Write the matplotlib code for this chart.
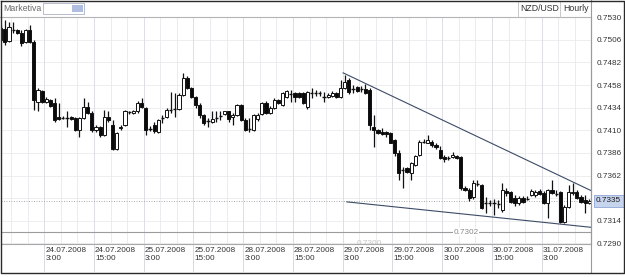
import matplotlib
matplotlib.use("Agg")
import matplotlib.pyplot as plt
import matplotlib.transforms as mtransforms
from matplotlib.patches import Rectangle

# ---------------- data ----------------
open_ = [0.7519, 0.7518, 0.7505, 0.7517, 0.7517, 0.7513, 0.7504, 0.7516, 0.7504, 0.7440,
         0.7452, 0.7440, 0.7442, 0.7439, 0.7424, 0.7423, 0.7424, 0.7424, 0.7423, 0.7410,
         0.7423, 0.7435, 0.7428, 0.7410, 0.7414, 0.7405, 0.7424, 0.7416, 0.7390, 0.7412,
         0.7416, 0.7430, 0.7428, 0.7430, 0.7439, 0.7434, 0.7412, 0.7416, 0.7408, 0.7424,
         0.7424, 0.7432, 0.7433, 0.7433, 0.7448, 0.7466, 0.7455, 0.7445, 0.7437, 0.7426,
         0.7420, 0.7419, 0.7424, 0.7426, 0.7427, 0.7430, 0.7424, 0.7426, 0.7437, 0.7421,
         0.7412, 0.7410, 0.7422, 0.7427, 0.7439, 0.7428, 0.7434, 0.7442, 0.7437, 0.7445,
         0.7449, 0.7450, 0.7450, 0.7450, 0.7435, 0.7450, 0.7450, 0.7450, 0.7446, 0.7445,
         0.7446, 0.7450, 0.7445, 0.7455, 0.7463, 0.7454, 0.7456, 0.7454, 0.7454, 0.7453,
         0.7414, 0.7410, 0.7408, 0.7408, 0.7407, 0.7400, 0.7386, 0.7367, 0.7370, 0.7365,
         0.7373, 0.7384, 0.7398, 0.7397, 0.7398, 0.7394, 0.7389, 0.7382, 0.7381, 0.7382,
         0.7383, 0.7382, 0.7349, 0.7347, 0.7339, 0.7354, 0.7352, 0.7333, 0.7333, 0.7333,
         0.7331, 0.7325, 0.7346, 0.7345, 0.7338, 0.7333, 0.7338, 0.7338, 0.7341, 0.7341,
         0.7346, 0.7343, 0.7333, 0.7347, 0.7343, 0.7345, 0.7313, 0.7329, 0.7343, 0.7345,
         0.7339, 0.7336, 0.7333]

high = [0.7522, 0.7527, 0.7525, 0.7525, 0.7518, 0.7516, 0.7518, 0.7522, 0.7506, 0.7455,
        0.7453, 0.7445, 0.7443, 0.7444, 0.7439, 0.7425, 0.7430, 0.7425, 0.7424, 0.7424,
        0.7444, 0.7440, 0.7430, 0.7416, 0.7415, 0.7432, 0.7430, 0.7421, 0.7408, 0.7416,
        0.7432, 0.7431, 0.7432, 0.7441, 0.7444, 0.7435, 0.7415, 0.7419, 0.7422, 0.7426,
        0.7434, 0.7451, 0.7450, 0.7450, 0.7471, 0.7468, 0.7456, 0.7446, 0.7439, 0.7427,
        0.7423, 0.7430, 0.7430, 0.7430, 0.7431, 0.7431, 0.7428, 0.7438, 0.7438, 0.7423,
        0.7423, 0.7427, 0.7428, 0.7440, 0.7441, 0.7436, 0.7444, 0.7443, 0.7451, 0.7453,
        0.7453, 0.7451, 0.7451, 0.7451, 0.7452, 0.7455, 0.7453, 0.7452, 0.7451, 0.7450,
        0.7452, 0.7451, 0.7463, 0.7469, 0.7466, 0.7458, 0.7457, 0.7457, 0.7459, 0.7455,
        0.7426, 0.7411, 0.7412, 0.7409, 0.7408, 0.7401, 0.7389, 0.7371, 0.7371, 0.7376,
        0.7384, 0.7400, 0.7401, 0.7405, 0.7400, 0.7396, 0.7393, 0.7384, 0.7383, 0.7387,
        0.7384, 0.7383, 0.7351, 0.7349, 0.7357, 0.7357, 0.7353, 0.7339, 0.7336, 0.7337,
        0.7336, 0.7354, 0.7349, 0.7346, 0.7341, 0.7340, 0.7340, 0.7340, 0.7348, 0.7347,
        0.7348, 0.7346, 0.7348, 0.7357, 0.7347, 0.7346, 0.7331, 0.7352, 0.7354, 0.7347,
        0.7341, 0.7341, 0.7337]

low = [0.7505, 0.7501, 0.7504, 0.7513, 0.7512, 0.7499, 0.7503, 0.7503, 0.7432, 0.7430,
       0.7439, 0.7439, 0.7435, 0.7419, 0.7421, 0.7422, 0.7414, 0.7421, 0.7409, 0.7403,
       0.7422, 0.7427, 0.7408, 0.7408, 0.7403, 0.7404, 0.7419, 0.7389, 0.7389, 0.7410,
       0.7415, 0.7427, 0.7427, 0.7428, 0.7434, 0.7405, 0.7409, 0.7407, 0.7407, 0.7418,
       0.7423, 0.7428, 0.7424, 0.7432, 0.7446, 0.7454, 0.7444, 0.7434, 0.7423, 0.7416,
       0.7414, 0.7418, 0.7419, 0.7421, 0.7426, 0.7419, 0.7416, 0.7425, 0.7420, 0.7409,
       0.7408, 0.7409, 0.7420, 0.7426, 0.7427, 0.7427, 0.7433, 0.7438, 0.7436, 0.7444,
       0.7440, 0.7440, 0.7444, 0.7438, 0.7433, 0.7444, 0.7446, 0.7446, 0.7440, 0.7444,
       0.7445, 0.7444, 0.7444, 0.7454, 0.7449, 0.7450, 0.7451, 0.7451, 0.7449, 0.7410,
       0.7392, 0.7406, 0.7405, 0.7403, 0.7396, 0.7383, 0.7357, 0.7349, 0.7365, 0.7357,
       0.7372, 0.7383, 0.7396, 0.7396, 0.7392, 0.7390, 0.7380, 0.7376, 0.7378, 0.7381,
       0.7380, 0.7347, 0.7346, 0.7335, 0.7337, 0.7351, 0.7326, 0.7322, 0.7330, 0.7320,
       0.7327, 0.7323, 0.7340, 0.7333, 0.7330, 0.7331, 0.7333, 0.7336, 0.7340, 0.7339,
       0.7341, 0.7332, 0.7317, 0.7342, 0.7340, 0.7312, 0.7312, 0.7328, 0.7341, 0.7337,
       0.7333, 0.7322, 0.7332]

close = [0.7506, 0.7504, 0.7520, 0.7516, 0.7513, 0.7503, 0.7516, 0.7504, 0.7442, 0.7453,
         0.7440, 0.7443, 0.7436, 0.7421, 0.7422, 0.7424, 0.7423, 0.7422, 0.7410, 0.7423,
         0.7435, 0.7428, 0.7410, 0.7414, 0.7405, 0.7424, 0.7421, 0.7390, 0.7407, 0.7414,
         0.7430, 0.7429, 0.7430, 0.7439, 0.7435, 0.7410, 0.7411, 0.7409, 0.7421, 0.7423,
         0.7432, 0.7431, 0.7432, 0.7448, 0.7466, 0.7455, 0.7445, 0.7437, 0.7426, 0.7418,
         0.7419, 0.7422, 0.7423, 0.7425, 0.7430, 0.7422, 0.7426, 0.7437, 0.7421, 0.7410,
         0.7411, 0.7426, 0.7426, 0.7439, 0.7428, 0.7434, 0.7442, 0.7439, 0.7450, 0.7452,
         0.7448, 0.7445, 0.7445, 0.7439, 0.7451, 0.7449, 0.7449, 0.7449, 0.7445, 0.7448,
         0.7450, 0.7445, 0.7455, 0.7461, 0.7451, 0.7453, 0.7452, 0.7453, 0.7450, 0.7416,
         0.7410, 0.7407, 0.7406, 0.7406, 0.7397, 0.7386, 0.7365, 0.7368, 0.7366, 0.7375,
         0.7383, 0.7398, 0.7397, 0.7400, 0.7394, 0.7392, 0.7381, 0.7380, 0.7380, 0.7384,
         0.7381, 0.7349, 0.7347, 0.7338, 0.7354, 0.7353, 0.7327, 0.7332, 0.7332, 0.7332,
         0.7332, 0.7347, 0.7343, 0.7334, 0.7333, 0.7338, 0.7334, 0.7337, 0.7346, 0.7345,
         0.7342, 0.7333, 0.7347, 0.7343, 0.7342, 0.7313, 0.7329, 0.7345, 0.7345, 0.7338,
         0.7334, 0.7333, 0.7335]

price_ticks = [0.7290, 0.7314, 0.7338, 0.7362, 0.7386, 0.7410, 0.7434,
               0.7458, 0.7482, 0.7506, 0.7530]
date_label_bars = [10, 22, 34, 46, 58, 70, 82, 94, 106, 118, 130]
date_labels = ["24.07.2008\n3:00", "24.07.2008\n15:00", "25.07.2008\n3:00",
               "25.07.2008\n15:00", "28.07.2008\n3:00", "28.07.2008\n15:00",
               "29.07.2008\n3:00", "29.07.2008\n15:00", "30.07.2008\n3:00",
               "30.07.2008\n15:00", "31.07.2008\n3:00"]
current_price = 0.7335
level_price = 0.7302
upper_trend_x = [82.6, 142.4]
upper_trend_y = [0.7471, 0.7346]
lower_trend_x = [83.5, 142.4]
lower_trend_y = [0.7334, 0.7307]
symbol = "NZD/USD"
period = "Hourly"
brand = "Marketiva"

# ---------------- figure ----------------
W, H = 625, 277
fig = plt.figure(figsize=(W / 100, H / 100), dpi=100)
fig.patch.set_facecolor("white")
FONT = "Liberation Sans"
FS = 5.9

def fx(px):
    return px / W

def fy(py):
    return 1 - py / H

ax_left, ax_right, ax_top, ax_bottom = 1, 591, 17, 243.5
ax = fig.add_axes([fx(ax_left), fy(ax_bottom), (ax_right - ax_left) / W,
                   (ax_bottom - ax_top) / H])
ax.set_zorder(1)
ax.set_facecolor("white")

n = len(close)
xs = list(range(n))
ax.set_xlim(0.07, 142.4)
ax.set_ylim(0.72898, 0.75303)

# grid + price axis (the tick hidden by the current-price box gets no text)
ax.set_yticks(price_ticks)
ax.set_yticklabels(["" if abs(t - current_price) < 0.0005 else f"{t:.4f}"
                    for t in price_ticks], fontfamily=FONT)
ax.yaxis.tick_right()
ax.tick_params(axis="y", length=0, pad=4, labelsize=FS, labelcolor="#333333")
ax.set_xticks([])
for t in price_ticks:
    ax.axhline(t, color="#ebebeb", lw=0.6, zorder=0)
k = 2
while k < n:
    ax.axvline(k + 0.5, color="#e9e9ee", lw=0.6, zorder=0)
    k += 4
for b in date_label_bars:
    ax.axvline(b + 0.5, color="#dcdce2", lw=0.6, zorder=0)

for s in ["top", "left"]:
    ax.spines[s].set_visible(False)
ax.spines["right"].set_color("#9a9a9a")
ax.spines["bottom"].set_color("#a8a8a8")
ax.spines["right"].set_linewidth(0.8)
ax.spines["bottom"].set_linewidth(0.8)

# reference lines
ax.axhline(current_price, color="#a0a0a0", lw=0.6, ls=(0, (1.2, 1.8)), zorder=1)
ax.axhline(level_price, color="#9c9c9c", lw=0.8, zorder=1)
ax.text(112.3, level_price, f"{level_price:.4f}", fontsize=FS, family=FONT,
        color="#8a8a8a", ha="center", va="center", zorder=2,
        bbox=dict(boxstyle="square,pad=0.05", fc="white", ec="none"))
# partly hidden level label at the bottom edge (clipped by the axes)
ax.text(89.0, 0.72880, "0.7300", fontsize=FS, family=FONT, color="#c4c4c4",
        ha="center", va="baseline", zorder=2, clip_on=True)

# candles
body_w = 0.76
for i in xs:
    o, h, l, c = open_[i], high[i], low[i], close[i]
    ax.vlines(i, l, h, color="#111111", lw=0.9, zorder=3)
    if abs(c - o) <= 0.00011:
        ax.hlines((o + c) / 2, i - body_w / 2, i + body_w / 2, color="#111111",
                  lw=1.0, zorder=4)
    else:
        bull = c > o
        ax.bar(i, abs(c - o), bottom=min(o, c), width=body_w,
               color="white" if bull else "#0a0a0a", edgecolor="#111111",
               linewidth=0.7, zorder=4)

# trend lines
ax.plot(upper_trend_x, upper_trend_y, color="#3d4b66", lw=0.8, zorder=5,
        clip_on=False)
ax.plot(lower_trend_x, lower_trend_y, color="#3d4b66", lw=0.8, zorder=5,
        clip_on=False)

# current price highlight on the axis
trans_r = mtransforms.blended_transform_factory(ax.transAxes, ax.transData)
ax.text(1 + 5 / 590, current_price, f"{current_price:.4f}", transform=trans_r,
        fontsize=FS, family=FONT, color="#1a1a1a", ha="left", va="center",
        zorder=10, clip_on=False,
        bbox=dict(boxstyle="square,pad=0.3", fc="#c6d4ee", ec="#8ea6d6", lw=0.6))

# date labels and their tick lines
trans_b = mtransforms.blended_transform_factory(ax.transData, ax.transAxes)
h_ax = ax_bottom - ax_top
for b, lab in zip(date_label_bars, date_labels):
    ax.plot([b + 0.5, b + 0.5], [0, -27 / h_ax], transform=trans_b,
            color="#d2d2d8", lw=0.6, clip_on=False, zorder=0)
    ax.text(b + 0.75, -3.0 / h_ax, lab, transform=trans_b, fontsize=FS,
            family=FONT, color="#333333", ha="left", va="top", linespacing=1.3,
            clip_on=False)

# ---------------- frame / header overlay ----------------
ov = fig.add_axes([0, 0, 1, 1])
ov.set_zorder(5)
ov.patch.set_alpha(0)
ov.set_xlim(0, W)
ov.set_ylim(H, 0)
ov.axis("off")

# header
ov.plot([0, 591], [17, 17], color="#b4b4b4", lw=0.8)
ov.text(3, 8.5, brand, fontsize=6.3, family=FONT, color="#6a6a6a", va="center")
ov.add_patch(Rectangle((43, 3), 41, 10.5, fc="white", ec="#a9b2c4", lw=0.6))
ov.add_patch(Rectangle((71.5, 4.5), 11.5, 7.5, fc="#aebde0", ec="none"))
ov.plot([517.5, 517.5], [1, 17], color="#c0c0c0", lw=0.6)
ov.plot([560, 560], [1, 17], color="#c0c0c0", lw=0.6)
ov.text(520, 8.5, symbol, fontsize=6.3, family=FONT, color="#333333", va="center")
ov.text(563.5, 8.5, period, fontsize=6.3, family=FONT, color="#333333", va="center")
ov.plot([591, 591], [0, 272], color="#9a9a9a", lw=0.8)

# outer border
ov.plot([0.5, 623.5, 623.5, 0.5, 0.5], [0.5, 0.5, 272.5, 272.5, 0.5],
        color="#2a2a2a", lw=1.0)

fig.savefig("out.png", dpi=100, facecolor="white")
